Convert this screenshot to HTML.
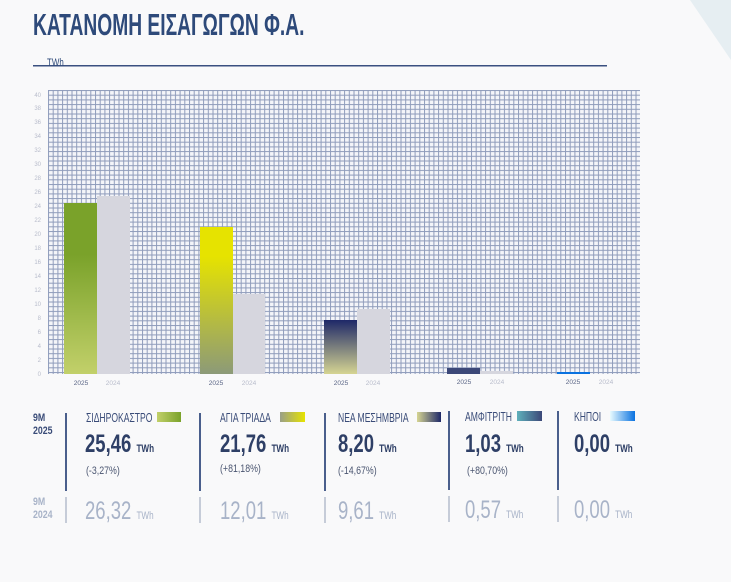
<!DOCTYPE html>
<html><head><meta charset="utf-8"><style>
body{margin:0;width:731px;height:582px;background:#f9f9fa;position:relative;overflow:hidden;font-family:"Liberation Sans",sans-serif;}
.a{position:absolute;white-space:nowrap;transform-origin:0 0}
.t{color:#2e4a7a}
.sep{position:absolute;width:2px;background:#4a5f8c}
.sep2{position:absolute;width:2px;background:#c6ccd8}
.n{font-size:25px;color:#2e3f66;font-weight:bold;transform:scaleX(0.74)}
.n small{font-size:11px}
.g{font-size:25px;color:#a8b3c8;transform:scaleX(0.74)}
.g small{font-size:11px}
.p{font-size:11px;color:#4a5570;transform:scaleX(0.8)}
.h{font-size:13px;color:#3a4c78;transform:scaleX(0.66)}
</style></head><body>
<svg class="a" style="left:0;top:0" width="731" height="582">
<polygon points="690,0 731,0 731,60" fill="#e6eef2"/>
<defs><pattern id="g" width="4.7" height="4.7" patternUnits="userSpaceOnUse" x="48" y="90">
<rect width="4.7" height="4.7" fill="#f4f5f9"/>
<rect width="1" height="4.7" fill="#8f9cbb"/><rect width="4.7" height="1" fill="#8f9cbb"/></pattern>
<linearGradient id="gr" x1="0" y1="0" x2="0" y2="1"><stop offset="0.3" stop-color="#7aa22a"/><stop offset="1" stop-color="#c2d06a"/></linearGradient>
<linearGradient id="ye" x1="0" y1="0" x2="0" y2="1"><stop offset="0.2" stop-color="#e6e300"/><stop offset="1" stop-color="#8c9a78"/></linearGradient>
<linearGradient id="nv" x1="0" y1="0" x2="0" y2="1"><stop offset="0" stop-color="#1e2868"/><stop offset="1" stop-color="#d6d592"/></linearGradient>
<linearGradient id="s1" x1="0" x2="1"><stop offset="0" stop-color="#c2d06a"/><stop offset="1" stop-color="#7aa22a"/></linearGradient>
<linearGradient id="s2" x1="0" x2="1"><stop offset="0" stop-color="#9aa088"/><stop offset="1" stop-color="#e6e300"/></linearGradient>
<linearGradient id="s3" x1="0" x2="1"><stop offset="0" stop-color="#d6d592"/><stop offset="1" stop-color="#1e2868"/></linearGradient>
<linearGradient id="s4" x1="0" x2="1"><stop offset="0" stop-color="#5fb0bb"/><stop offset="1" stop-color="#3c4878"/></linearGradient>
<linearGradient id="s5" x1="0" x2="1"><stop offset="0" stop-color="#e8fbff"/><stop offset="1" stop-color="#0a72e0"/></linearGradient>
</defs>
<rect x="48" y="90" width="592" height="284" fill="url(#g)"/>
<rect x="64" y="203" width="33" height="171" fill="url(#gr)"/>
<rect x="97" y="196" width="33" height="178" fill="#d6d6de"/>
<rect x="200" y="227" width="33" height="147" fill="url(#ye)"/>
<rect x="233" y="294" width="32" height="80" fill="#d6d6de"/>
<rect x="324" y="320" width="33" height="54" fill="url(#nv)"/>
<rect x="357" y="309" width="33" height="65" fill="#d6d6de"/>
<rect x="447" y="368" width="33" height="6" fill="#3c4878"/>
<rect x="480" y="371" width="33" height="3" fill="#d6d6de"/>
<rect x="557" y="372" width="33" height="2" fill="#0a72e0"/>
<g font-family="Liberation Sans,sans-serif" font-size="6" fill="#b8bccb" text-anchor="end">
<text x="41" y="376">0</text><text x="41" y="362">2</text><text x="41" y="348">4</text><text x="41" y="334">6</text><text x="41" y="320">8</text><text x="41" y="306">10</text><text x="41" y="292">12</text><text x="41" y="278">14</text><text x="41" y="264">16</text><text x="41" y="250">18</text><text x="41" y="236">20</text><text x="41" y="222">22</text><text x="41" y="208">24</text><text x="41" y="194">26</text><text x="41" y="180">28</text><text x="41" y="166">30</text><text x="41" y="152">32</text><text x="41" y="138">34</text><text x="41" y="124">36</text><text x="41" y="110">38</text><text x="41" y="97">40</text>
</g>
<g font-family="Liberation Sans,sans-serif" font-size="6.5" text-anchor="middle">
<text x="81" y="385" fill="#5a6585">2025</text><text x="113" y="385" fill="#b8bccb">2024</text>
<text x="216" y="385" fill="#5a6585">2025</text><text x="249" y="385" fill="#b8bccb">2024</text>
<text x="341" y="385" fill="#5a6585">2025</text><text x="373" y="385" fill="#b8bccb">2024</text>
<text x="464" y="384" fill="#5a6585">2025</text><text x="497" y="384" fill="#b8bccb">2024</text>
<text x="573" y="384" fill="#5a6585">2025</text><text x="606" y="384" fill="#b8bccb">2024</text>
</g>
<rect x="33" y="65" width="574" height="1.5" fill="#3a5080"/>
<rect x="157" y="412" width="24" height="10" fill="url(#s1)"/>
<rect x="280" y="412" width="25" height="10" fill="url(#s2)"/>
<rect x="417" y="412" width="24" height="10" fill="url(#s3)"/>
<rect x="517" y="411" width="25" height="10" fill="url(#s4)"/>
<rect x="610" y="411" width="25" height="10" fill="url(#s5)"/>
</svg>
<div class="a t" style="left:33px;top:7px;font-size:31px;font-weight:bold;transform:scaleX(0.62)">ΚΑΤΑΝΟΜΗ ΕΙΣΑΓΩΓΩΝ Φ.Α.</div>
<div class="a t" style="left:47px;top:57px;font-size:11px;transform:scaleX(0.72)">TWh</div>

<div class="a" style="left:33px;top:412px;font-size:11px;font-weight:bold;color:#3a4c78;line-height:13px;transform:scaleX(0.8)">9M<br>2025</div>
<div class="a" style="left:33px;top:496px;font-size:11px;font-weight:bold;color:#a8b3c8;line-height:13px;transform:scaleX(0.8)">9M<br>2024</div>

<div class="sep" style="left:65px;top:413px;height:78px"></div>
<div class="sep" style="left:199px;top:413px;height:78px"></div>
<div class="sep" style="left:324px;top:413px;height:78px"></div>
<div class="sep" style="left:448px;top:411px;height:79px"></div>
<div class="sep" style="left:557px;top:411px;height:79px"></div>
<div class="sep2" style="left:65px;top:497px;height:26px"></div>
<div class="sep2" style="left:199px;top:497px;height:26px"></div>
<div class="sep2" style="left:324px;top:497px;height:26px"></div>
<div class="sep2" style="left:448px;top:496px;height:26px"></div>
<div class="sep2" style="left:557px;top:496px;height:26px"></div>

<div class="a h" style="left:86px;top:410px">ΣΙΔΗΡΟΚΑΣΤΡΟ</div>
<div class="a n" style="left:85px;top:430px">25,46 <small>TWh</small></div>
<div class="a p" style="left:86px;top:465px">(-3,27%)</div>
<div class="a g" style="left:85px;top:497px">26,32 <small>TWh</small></div>

<div class="a h" style="left:220px;top:410px">ΑΓΙΑ ΤΡΙΑΔΑ</div>
<div class="a n" style="left:220px;top:430px">21,76 <small>TWh</small></div>
<div class="a p" style="left:220px;top:463px">(+81,18%)</div>
<div class="a g" style="left:220px;top:497px">12,01 <small>TWh</small></div>

<div class="a h" style="left:338px;top:410px">ΝΕΑ ΜΕΣΗΜΒΡΙΑ</div>
<div class="a n" style="left:338px;top:430px">8,20 <small>TWh</small></div>
<div class="a p" style="left:338px;top:465px">(-14,67%)</div>
<div class="a g" style="left:338px;top:497px">9,61 <small>TWh</small></div>

<div class="a h" style="left:465px;top:409px">ΑΜΦΙΤΡΙΤΗ</div>
<div class="a n" style="left:465px;top:430px">1,03 <small>TWh</small></div>
<div class="a p" style="left:467px;top:465px">(+80,70%)</div>
<div class="a g" style="left:465px;top:496px">0,57 <small>TWh</small></div>

<div class="a h" style="left:574px;top:409px">ΚΗΠΟΙ</div>
<div class="a n" style="left:574px;top:430px">0,00 <small>TWh</small></div>
<div class="a g" style="left:574px;top:496px">0,00 <small>TWh</small></div>
</body></html>
